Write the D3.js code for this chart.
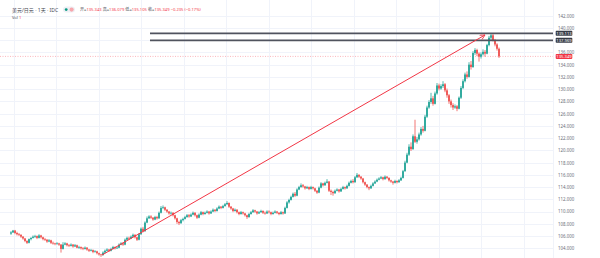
<!DOCTYPE html>
<html>
<head>
<meta charset="utf-8">
<script src="https://cdn.jsdelivr.net/npm/d3@7"></script>
<style>
  body { margin: 0; background: #fff; }
  svg { display: block; font-family: "Noto Sans", "Noto Sans CJK SC", sans-serif; }
</style>
</head>
<body>
<svg id="chart" width="600" height="258"></svg>
<script>
// USD/JPY candles (open = previous close)
const firstOpen = 106.4;
const closes = [
  106.6,106.9,106.5,106.3,106.2,105.9,105.6,105.2,104.9,105.5,
  105.7,105.9,106.0,105.7,106.1,105.8,105.5,105.4,105.1,105.3,
  104.9,104.8,104.7,104.8,104.6,103.9,104.6,104.8,104.5,104.4,
  104.6,104.3,104.5,104.1,104.2,104.0,103.9,104.1,103.8,103.6,
  103.7,103.4,103.5,103.2,103.0,102.9,103.3,103.6,103.8,103.6,
  103.9,104.2,104.0,104.1,104.6,104.8,104.6,105.4,105.7,105.6,
  105.9,106.2,105.8,105.4,106.3,107.2,106.8,108.2,108.9,109.2,
  109.0,108.7,109.1,108.9,109.8,110.6,110.7,110.3,110.0,109.7,
  109.8,109.4,108.9,108.3,108.1,108.6,108.8,109.1,109.4,109.2,
  109.5,109.8,109.4,109.0,109.5,109.9,109.6,109.8,110.0,109.7,
  110.0,110.3,110.1,110.5,110.8,110.6,110.9,111.2,111.4,110.8,
  110.5,110.1,110.3,109.9,109.6,109.9,109.7,109.4,109.1,109.6,
  109.9,110.2,110.0,109.7,109.9,110.1,109.8,109.7,110.0,109.9,
  109.6,109.8,110.0,109.8,109.6,109.9,109.7,110.6,111.5,111.9,
  112.4,112.9,112.6,113.6,114.0,114.3,114.1,113.8,114.0,113.7,
  114.0,113.8,113.4,113.1,113.9,114.6,114.3,114.7,114.9,113.4,
  113.2,113.0,113.4,113.6,113.3,113.7,114.0,113.8,114.2,114.7,
  115.0,114.8,115.6,116.0,115.7,115.4,114.8,114.4,114.0,113.8,
  114.2,114.6,114.9,115.2,115.4,115.6,115.3,115.7,115.5,115.1,
  114.9,114.7,115.0,114.8,115.1,115.5,116.6,118.0,119.3,120.6,
  120.2,122.3,121.4,121.8,122.6,123.5,123.2,125.5,127.0,127.9,
  128.5,127.6,129.3,130.6,130.1,130.5,130.8,129.8,129.0,128.0,
  127.4,127.0,127.2,126.8,128.6,130.2,131.3,132.4,132.0,134.0,
  133.6,135.9,136.4,135.8,135.3,135.7,136.1,135.8,137.2,138.4,
  138.8,138.0,137.3,136.6,135.349
];
const highs = [
  106.8,107.0,107.0,106.7,106.5,106.3,106.0,105.7,105.3,105.6,
  105.8,106.1,106.2,106.1,106.3,106.2,105.9,105.7,105.5,105.5,
  105.4,105.1,104.9,105.0,104.9,104.7,105.0,105.0,104.9,104.7,
  104.8,104.7,104.7,104.6,104.4,104.3,104.2,104.3,104.2,103.9,
  103.9,103.8,103.7,103.6,103.3,103.1,103.5,103.8,104.0,103.9,
  104.1,104.4,104.3,104.3,104.8,105.0,105.0,105.6,105.9,105.9,
  106.1,106.4,106.3,105.9,106.5,107.4,107.5,108.4,109.2,109.4,
  109.4,109.1,109.3,109.3,110.0,110.9,111.0,110.8,110.4,110.1,
  110.0,109.9,109.5,109.0,108.5,108.8,109.0,109.3,109.6,109.6,
  109.7,110.0,109.9,109.5,109.7,110.1,110.0,110.0,110.2,110.1,
  110.2,110.5,110.4,110.7,111.0,110.9,111.1,111.4,111.7,111.5,
  110.9,110.6,110.5,110.4,110.0,110.1,110.0,109.8,109.5,109.8,
  110.1,110.4,110.3,110.1,110.1,110.3,110.2,110.0,110.2,110.2,
  110.0,110.0,110.2,110.1,109.9,110.1,110.0,110.8,111.7,112.1,
  112.6,113.1,113.2,113.8,114.2,114.6,114.5,114.2,114.2,114.1,
  114.2,114.1,113.9,113.5,114.1,114.8,114.7,114.9,115.3,115.0,
  113.6,113.4,113.6,113.8,113.7,113.9,114.2,114.1,114.4,114.9,
  115.2,115.3,115.8,116.3,116.1,115.8,115.5,114.9,114.5,114.1,
  114.4,114.8,115.1,115.4,115.6,115.8,115.7,115.9,115.8,115.6,
  115.2,115.0,115.2,115.1,115.3,115.7,116.8,118.3,119.6,121.0,
  121.3,122.6,125.0,122.2,122.9,123.8,124.0,125.8,127.3,128.2,
  129.4,128.9,129.6,131.0,130.9,130.8,131.3,131.0,130.1,129.2,
  128.3,127.7,127.5,127.4,128.8,130.5,131.6,132.7,132.9,134.4,
  134.6,136.2,136.7,136.6,136.0,136.0,136.5,136.4,137.4,138.7,
  139.1,139.0,138.2,137.5,136.8
];
const lows = [
  106.2,106.5,106.3,106.1,106.0,105.7,105.4,105.0,104.7,104.8,
  105.3,105.6,105.7,105.5,105.6,105.6,105.3,105.2,104.9,105.0,
  104.7,104.6,104.5,104.6,104.4,103.3,103.8,104.5,104.3,104.2,
  104.3,104.1,104.2,104.0,103.9,103.8,103.7,103.8,103.6,103.4,
  103.5,103.2,103.3,103.0,102.8,102.6,102.8,103.2,103.5,103.4,
  103.5,103.8,103.8,103.9,104.0,104.5,104.4,104.5,105.3,105.4,
  105.5,105.8,105.6,105.2,105.3,106.2,106.6,106.7,108.1,108.8,
  108.8,108.5,108.6,108.7,108.8,109.7,110.4,110.1,109.8,109.5,
  109.5,109.2,108.7,108.0,107.8,108.0,108.4,108.7,109.0,109.0,
  109.1,109.4,109.2,108.8,108.9,109.4,109.4,109.5,109.7,109.5,
  109.6,109.9,109.9,110.0,110.4,110.4,110.5,110.8,111.1,110.6,
  110.3,109.9,110.0,109.7,109.4,109.5,109.5,109.2,108.8,109.0,
  109.5,109.8,109.8,109.5,109.6,109.8,109.6,109.5,109.6,109.7,
  109.4,109.5,109.7,109.6,109.4,109.5,109.5,109.6,110.5,111.3,
  111.8,112.3,112.4,112.5,113.5,113.9,113.9,113.6,113.7,113.5,
  113.6,113.6,113.2,112.9,113.0,113.8,114.1,114.2,114.6,113.2,
  112.7,112.6,112.9,113.3,113.1,113.2,113.6,113.6,113.7,114.1,
  114.6,114.6,114.7,115.5,115.5,115.2,114.6,114.2,113.8,113.5,
  113.7,114.1,114.5,114.8,115.1,115.3,115.1,115.2,115.3,114.9,
  114.7,114.4,114.6,114.6,114.7,115.0,115.4,116.5,117.9,119.1,
  119.9,120.1,121.2,121.1,121.6,122.4,122.9,123.1,125.3,126.8,
  127.6,127.3,127.5,129.1,129.8,129.9,130.2,129.5,128.6,127.6,
  127.0,126.6,126.8,126.4,126.7,128.4,130.0,131.1,131.7,131.9,
  133.2,133.5,135.6,135.4,134.5,135.0,135.5,135.3,135.7,137.0,
  138.0,137.8,137.0,136.3,135.1
];

const priceTicks = [104,106,108,110,112,114,116,118,120,122,124,126,128,130,132,134,136,138,140,142];
// month gridlines, in candle-index units
const gridIdx = [1.25,22.5,43.75,65,86.25,107.5,128.75,150,171.25,192.5,213.75,235,256.25];
const hLines = [139.113, 137.969];
const hLineStart = 69.5;
const trendLine = [{i: 45.5, v: 102.9}, {i: 237, v: 138.85}];
const lastPrice = 135.349;

const title = "美元/日元 · 1天 · IDC";
const ohlcNames = ["开", "高", "低", "收"];
const ohlcValues = ["135.343", "136.079", "135.105", "135.349"];
const changeText = "−0.235 (−0.17%)";

const UP = "#26a69a", DOWN = "#ef5350", RED = "#f23645";
const plotRight = 553;

const svg = d3.select("#chart");
const x = d3.scaleLinear().domain([0, 271]).range([11, plotRight]);
const y = d3.scaleLinear().domain([104, 142]).range([248.3, 15.7]);

const candles = closes.map((c, i) => ({
  i, c, o: i ? closes[i - 1] : firstOpen, h: highs[i], l: lows[i]
}));

// grid
const grid = svg.append("g").attr("stroke", "#f0f3fa").attr("stroke-width", 1);
grid.selectAll("line.h").data(priceTicks).join("line")
  .attr("x1", 0).attr("x2", plotRight)
  .attr("y1", d => Math.round(y(d)) + 0.5).attr("y2", d => Math.round(y(d)) + 0.5);
grid.selectAll("line.v").data(gridIdx).join("line")
  .attr("x1", d => Math.round(x(d)) + 0.5).attr("x2", d => Math.round(x(d)) + 0.5)
  .attr("y1", 0).attr("y2", 258);

// current price dotted line
svg.append("line")
  .attr("x1", 0).attr("x2", plotRight)
  .attr("y1", y(lastPrice)).attr("y2", y(lastPrice))
  .attr("stroke", RED).attr("stroke-opacity", 0.6)
  .attr("stroke-width", 0.6).attr("stroke-dasharray", "1,1.5");

// candles
const cg = svg.append("g");
cg.selectAll("line").data(candles).join("line")
  .attr("x1", d => x(d.i)).attr("x2", d => x(d.i))
  .attr("y1", d => y(d.h)).attr("y2", d => y(d.l))
  .attr("stroke", d => d.c >= d.o ? UP : DOWN)
  .attr("stroke-width", 0.8);
cg.selectAll("rect").data(candles).join("rect")
  .attr("x", d => x(d.i) - 0.9)
  .attr("width", 1.8)
  .attr("y", d => y(Math.max(d.o, d.c)))
  .attr("height", d => Math.max(0.7, Math.abs(y(d.o) - y(d.c))))
  .attr("fill", d => d.c >= d.o ? UP : DOWN);

// horizontal rays
svg.selectAll("line.ray").data(hLines).join("line")
  .attr("class", "ray")
  .attr("x1", x(hLineStart)).attr("x2", plotRight)
  .attr("y1", d => y(d)).attr("y2", d => y(d))
  .attr("stroke", "#50535e").attr("stroke-width", 1.6);

// trend line with arrow
const defs = svg.append("defs");
defs.append("marker").attr("id", "arr")
  .attr("viewBox", "0 0 10 10").attr("refX", 9).attr("refY", 5)
  .attr("markerWidth", 6).attr("markerHeight", 6).attr("orient", "auto")
  .append("path").attr("d", "M1,1 L9,5 L1,9").attr("fill", "none")
  .attr("stroke", RED).attr("stroke-width", 1.4);
svg.append("line")
  .attr("x1", x(trendLine[0].i)).attr("y1", y(trendLine[0].v))
  .attr("x2", x(trendLine[1].i)).attr("y2", y(trendLine[1].v))
  .attr("stroke", RED).attr("stroke-width", 1)
  .attr("marker-end", "url(#arr)");

// price scale border
svg.append("line").attr("x1", plotRight + 0.5).attr("x2", plotRight + 0.5)
  .attr("y1", 0).attr("y2", 258).attr("stroke", "#f0f3fa");

// price axis
const axis = svg.append("g").attr("transform", `translate(${plotRight + 5},0)`)
  .call(d3.axisRight(y).tickValues(priceTicks).tickFormat(d3.format(".3f")).tickSize(0).tickPadding(0));
axis.select(".domain").remove();
axis.selectAll("text")
  .attr("font-size", 4.4).attr("fill", "#6a6d78")
  .style("font-family", "'Noto Sans', sans-serif")
  .attr("display", d => hLines.some(b => Math.abs(y(b) - y(d)) < 4) ? "none" : null);

const tags = svg.append("g");
const tagData = hLines.map(v => ({v, fill: "#363a45"})).concat([{v: lastPrice, fill: RED}]);
tags.selectAll("rect").data(tagData).join("rect")
  .attr("x", plotRight + 2.7).attr("width", 16.6)
  .attr("y", d => y(d.v) - 2.5).attr("height", 5).attr("rx", 0.8)
  .attr("fill", d => d.fill);
tags.selectAll("text").data(tagData).join("text")
  .attr("x", plotRight + 11).attr("y", d => y(d.v))
  .attr("dy", "0.35em").attr("text-anchor", "middle")
  .attr("font-size", 4.2).attr("fill", "#fff")
  .text(d => d3.format(".3f")(d.v));

// legend / header
const head = svg.append("g");
head.append("text").attr("x", 12).attr("y", 11.5)
  .attr("font-size", 5).attr("fill", "#434651").text(title);
head.append("rect").attr("x", 63).attr("y", 6.6).attr("width", 12).attr("height", 6)
  .attr("rx", 3).attr("fill", "#eef0f5");
head.append("circle").attr("cx", 66.2).attr("cy", 9.6).attr("r", 1.4).attr("fill", "#089981");
head.append("circle").attr("cx", 71.6).attr("cy", 9.6).attr("r", 2.1).attr("fill", "#f7a7ad");

const ohlc = head.append("text").attr("x", 80).attr("y", 11.3).attr("font-size", 4.1);
ohlcNames.forEach((n, k) => {
  ohlc.append("tspan").attr("fill", "#434651").text((k ? " " : "") + n + "=");
  ohlc.append("tspan").attr("fill", RED).text(ohlcValues[k]);
});
ohlc.append("tspan").attr("fill", RED).text(" " + changeText);

const vol = head.append("text").attr("x", 12).attr("y", 18.6).attr("font-size", 4.1);
vol.append("tspan").attr("fill", "#434651").text("Vol ");
vol.append("tspan").attr("fill", RED).text("1");
</script>
</body>
</html>
